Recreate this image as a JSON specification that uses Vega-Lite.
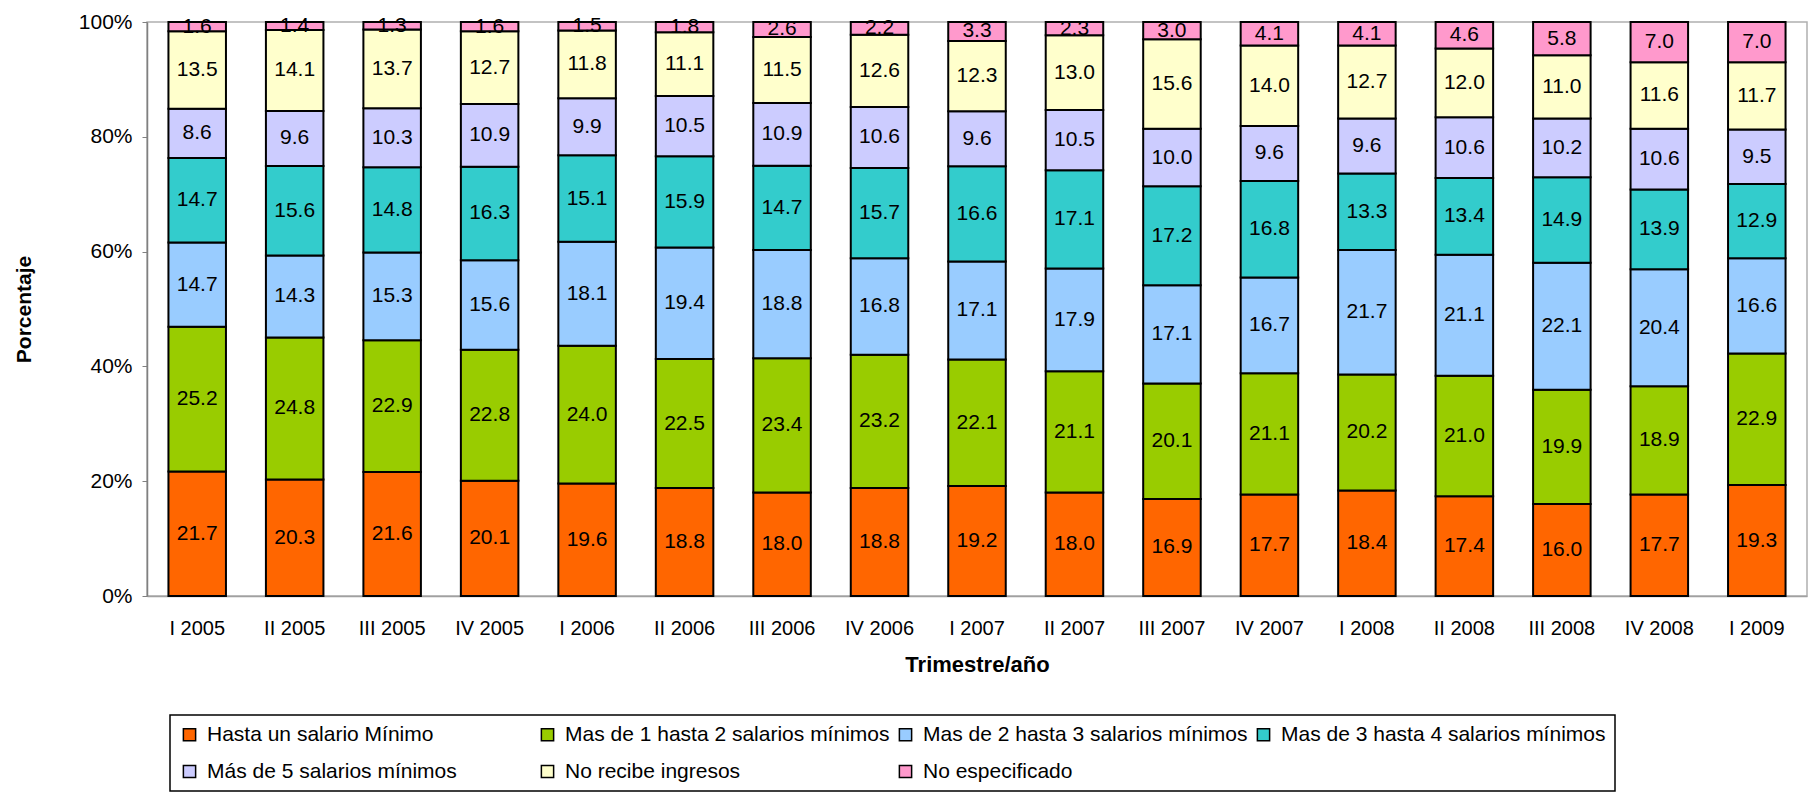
{
  "$schema": "https://vega.github.io/schema/vega-lite/v6.json",
  "autosize": "none",
  "width": 1660,
  "height": 574,
  "padding": {"left": 147, "top": 22, "right": 1, "bottom": 196},
  "background": "white",
  "config": {
    "font": "Liberation Sans",
    "view": {"stroke": "#b0b0b0", "strokeWidth": 1.5},
    "axis": {"labelFont": "Liberation Sans", "titleFont": "Liberation Sans", "labelColor": "black", "titleColor": "black"}
  },
  "data": {
    "values": [
      {"t": "I 2005", "Hasta un salario Mínimo": 21.7, "Mas de 1 hasta 2 salarios mínimos": 25.2, "Mas de 2 hasta 3 salarios mínimos": 14.7, "Mas de 3 hasta 4 salarios mínimos": 14.7, "Más de 5 salarios mínimos": 8.6, "No recibe ingresos": 13.5, "No especificado": 1.6},
      {"t": "II 2005", "Hasta un salario Mínimo": 20.3, "Mas de 1 hasta 2 salarios mínimos": 24.8, "Mas de 2 hasta 3 salarios mínimos": 14.3, "Mas de 3 hasta 4 salarios mínimos": 15.6, "Más de 5 salarios mínimos": 9.6, "No recibe ingresos": 14.1, "No especificado": 1.4},
      {"t": "III 2005", "Hasta un salario Mínimo": 21.6, "Mas de 1 hasta 2 salarios mínimos": 22.9, "Mas de 2 hasta 3 salarios mínimos": 15.3, "Mas de 3 hasta 4 salarios mínimos": 14.8, "Más de 5 salarios mínimos": 10.3, "No recibe ingresos": 13.7, "No especificado": 1.3},
      {"t": "IV 2005", "Hasta un salario Mínimo": 20.1, "Mas de 1 hasta 2 salarios mínimos": 22.8, "Mas de 2 hasta 3 salarios mínimos": 15.6, "Mas de 3 hasta 4 salarios mínimos": 16.3, "Más de 5 salarios mínimos": 10.9, "No recibe ingresos": 12.7, "No especificado": 1.6},
      {"t": "I 2006", "Hasta un salario Mínimo": 19.6, "Mas de 1 hasta 2 salarios mínimos": 24.0, "Mas de 2 hasta 3 salarios mínimos": 18.1, "Mas de 3 hasta 4 salarios mínimos": 15.1, "Más de 5 salarios mínimos": 9.9, "No recibe ingresos": 11.8, "No especificado": 1.5},
      {"t": "II 2006", "Hasta un salario Mínimo": 18.8, "Mas de 1 hasta 2 salarios mínimos": 22.5, "Mas de 2 hasta 3 salarios mínimos": 19.4, "Mas de 3 hasta 4 salarios mínimos": 15.9, "Más de 5 salarios mínimos": 10.5, "No recibe ingresos": 11.1, "No especificado": 1.8},
      {"t": "III 2006", "Hasta un salario Mínimo": 18.0, "Mas de 1 hasta 2 salarios mínimos": 23.4, "Mas de 2 hasta 3 salarios mínimos": 18.8, "Mas de 3 hasta 4 salarios mínimos": 14.7, "Más de 5 salarios mínimos": 10.9, "No recibe ingresos": 11.5, "No especificado": 2.6},
      {"t": "IV 2006", "Hasta un salario Mínimo": 18.8, "Mas de 1 hasta 2 salarios mínimos": 23.2, "Mas de 2 hasta 3 salarios mínimos": 16.8, "Mas de 3 hasta 4 salarios mínimos": 15.7, "Más de 5 salarios mínimos": 10.6, "No recibe ingresos": 12.6, "No especificado": 2.2},
      {"t": "I 2007", "Hasta un salario Mínimo": 19.2, "Mas de 1 hasta 2 salarios mínimos": 22.1, "Mas de 2 hasta 3 salarios mínimos": 17.1, "Mas de 3 hasta 4 salarios mínimos": 16.6, "Más de 5 salarios mínimos": 9.6, "No recibe ingresos": 12.3, "No especificado": 3.3},
      {"t": "II 2007", "Hasta un salario Mínimo": 18.0, "Mas de 1 hasta 2 salarios mínimos": 21.1, "Mas de 2 hasta 3 salarios mínimos": 17.9, "Mas de 3 hasta 4 salarios mínimos": 17.1, "Más de 5 salarios mínimos": 10.5, "No recibe ingresos": 13.0, "No especificado": 2.3},
      {"t": "III 2007", "Hasta un salario Mínimo": 16.9, "Mas de 1 hasta 2 salarios mínimos": 20.1, "Mas de 2 hasta 3 salarios mínimos": 17.1, "Mas de 3 hasta 4 salarios mínimos": 17.2, "Más de 5 salarios mínimos": 10.0, "No recibe ingresos": 15.6, "No especificado": 3.0},
      {"t": "IV 2007", "Hasta un salario Mínimo": 17.7, "Mas de 1 hasta 2 salarios mínimos": 21.1, "Mas de 2 hasta 3 salarios mínimos": 16.7, "Mas de 3 hasta 4 salarios mínimos": 16.8, "Más de 5 salarios mínimos": 9.6, "No recibe ingresos": 14.0, "No especificado": 4.1},
      {"t": "I 2008", "Hasta un salario Mínimo": 18.4, "Mas de 1 hasta 2 salarios mínimos": 20.2, "Mas de 2 hasta 3 salarios mínimos": 21.7, "Mas de 3 hasta 4 salarios mínimos": 13.3, "Más de 5 salarios mínimos": 9.6, "No recibe ingresos": 12.7, "No especificado": 4.1},
      {"t": "II 2008", "Hasta un salario Mínimo": 17.4, "Mas de 1 hasta 2 salarios mínimos": 21.0, "Mas de 2 hasta 3 salarios mínimos": 21.1, "Mas de 3 hasta 4 salarios mínimos": 13.4, "Más de 5 salarios mínimos": 10.6, "No recibe ingresos": 12.0, "No especificado": 4.6},
      {"t": "III 2008", "Hasta un salario Mínimo": 16.0, "Mas de 1 hasta 2 salarios mínimos": 19.9, "Mas de 2 hasta 3 salarios mínimos": 22.1, "Mas de 3 hasta 4 salarios mínimos": 14.9, "Más de 5 salarios mínimos": 10.2, "No recibe ingresos": 11.0, "No especificado": 5.8},
      {"t": "IV 2008", "Hasta un salario Mínimo": 17.7, "Mas de 1 hasta 2 salarios mínimos": 18.9, "Mas de 2 hasta 3 salarios mínimos": 20.4, "Mas de 3 hasta 4 salarios mínimos": 13.9, "Más de 5 salarios mínimos": 10.6, "No recibe ingresos": 11.6, "No especificado": 7.0},
      {"t": "I 2009", "Hasta un salario Mínimo": 19.3, "Mas de 1 hasta 2 salarios mínimos": 22.9, "Mas de 2 hasta 3 salarios mínimos": 16.6, "Mas de 3 hasta 4 salarios mínimos": 12.9, "Más de 5 salarios mínimos": 9.5, "No recibe ingresos": 11.7, "No especificado": 7.0}
    ]
  },
  "transform": [
    {"fold": ["Hasta un salario Mínimo", "Mas de 1 hasta 2 salarios mínimos", "Mas de 2 hasta 3 salarios mínimos", "Mas de 3 hasta 4 salarios mínimos", "Más de 5 salarios mínimos", "No recibe ingresos", "No especificado"], "as": ["serie", "valor"]},
    {"calculate": "indexof(['Hasta un salario Mínimo', 'Mas de 1 hasta 2 salarios mínimos', 'Mas de 2 hasta 3 salarios mínimos', 'Mas de 3 hasta 4 salarios mínimos', 'Más de 5 salarios mínimos', 'No recibe ingresos', 'No especificado'], datum.serie)", "as": "orden"},
    {"stack": "valor", "groupby": ["t"], "sort": [{"field": "orden", "order": "ascending"}], "offset": "normalize", "as": ["y0", "y1"]},
    {"calculate": "(datum.y0 + datum.y1) / 2", "as": "ym"}
  ],
  "encoding": {
    "x": {
      "field": "t", "type": "nominal", "sort": null,
      "scale": {"paddingInner": 0.41, "paddingOuter": 0.22},
      "axis": {"title": "Trimestre/año", "labelAngle": 0, "ticks": false, "labelPadding": 22, "labelFontSize": 20, "titleFontSize": 22, "titleFontWeight": "bold", "titlePadding": 16, "domainColor": "#a0a0a0", "domainWidth": 1.5}
    }
  },
  "layer": [
    {
      "mark": {"type": "bar", "stroke": "black", "strokeWidth": 2},
      "encoding": {
        "y": {"field": "y0", "type": "quantitative", "scale": {"domain": [0, 1]},
          "axis": {"title": "Porcentaje", "values": [0, 0.2, 0.4, 0.6, 0.8, 1], "format": ".0%", "grid": false, "tickSize": 5, "labelPadding": 10, "labelFontSize": 21, "titleFontSize": 21, "titleFontWeight": "bold", "titlePadding": 44, "domainColor": "#808080", "tickColor": "#808080", "domainWidth": 1.5}},
        "y2": {"field": "y1"},
        "color": {
          "field": "serie", "type": "nominal",
          "scale": {
            "domain": ["Hasta un salario Mínimo", "Mas de 1 hasta 2 salarios mínimos", "Mas de 2 hasta 3 salarios mínimos", "Mas de 3 hasta 4 salarios mínimos", "Más de 5 salarios mínimos", "No recibe ingresos", "No especificado"],
            "range": ["#FF6600", "#99CC00", "#99CCFF", "#33CCCC", "#CCCCFF", "#FFFFCC", "#FF99CC"]
          },
          "legend": {
            "title": null, "orient": "none", "legendX": 23, "legendY": 693,
            "direction": "horizontal", "columns": 4, "gridAlign": "all",
            "columnPadding": 5, "rowPadding": 15, "padding": 9,
            "strokeColor": "black", "fillColor": "white",
            "symbolType": "square", "symbolSize": 150, "symbolStrokeColor": "black", "symbolStrokeWidth": 1.5, "symbolOpacity": 1,
            "labelFont": "Liberation Sans", "labelFontSize": 21, "labelColor": "black", "labelOffset": 7, "labelLimit": 500,
            "encode": {"legend": {"update": {"strokeWidth": {"value": 1.5}}}}
          }
        }
      }
    },
    {
      "mark": {"type": "text", "font": "Liberation Sans", "fontSize": 21, "color": "black", "baseline": "middle", "align": "center"},
      "encoding": {
        "y": {"field": "ym", "type": "quantitative", "scale": {"domain": [0, 1]},
          "axis": {"title": "Porcentaje", "values": [0, 0.2, 0.4, 0.6, 0.8, 1], "format": ".0%", "grid": false, "tickSize": 5, "labelPadding": 10, "labelFontSize": 21, "titleFontSize": 21, "titleFontWeight": "bold", "titlePadding": 44, "domainColor": "#808080", "tickColor": "#808080", "domainWidth": 1.5}},
        "text": {"field": "valor", "type": "quantitative", "format": ".1f"}
      }
    }
  ]
}
